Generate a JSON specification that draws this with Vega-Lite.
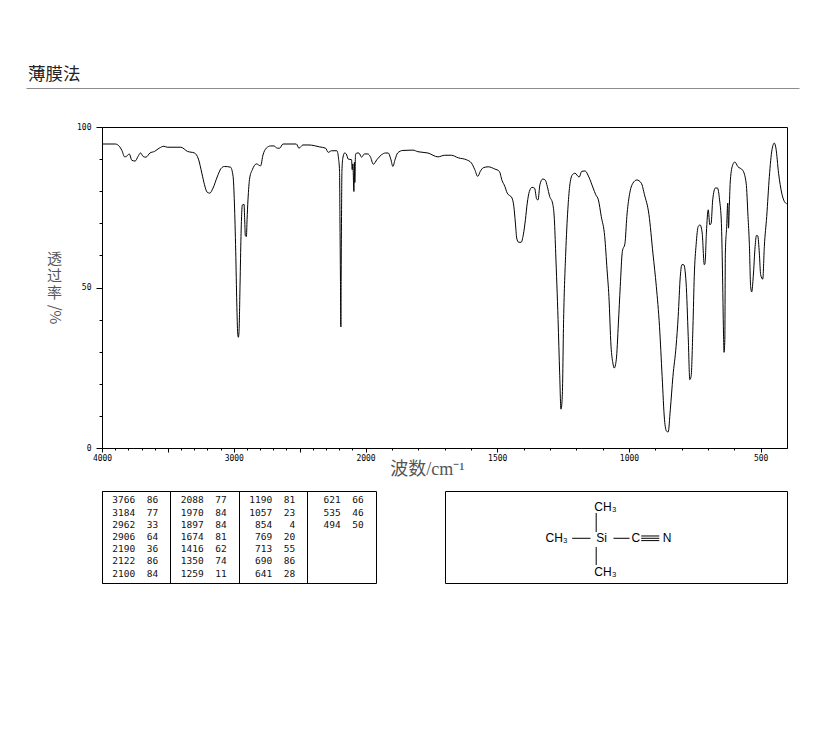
{
"$schema":"https://vega.github.io/schema/vega-lite/v6.json",
"background":"white",
"padding":{"left":26,"top":65,"right":23,"bottom":154},
"spacing":11,
"config":{"view":{"stroke":null}},
"datasets":{
"spectrum":[
{"w":4000,"t":94.7},{"w":3899,"t":94.7},{"w":3869,"t":94.0},{"w":3849,"t":92.7},{"w":3828,"t":90.7},{"w":3813,"t":90.9},{"w":3793,"t":91.6},{"w":3773,"t":89.6},{"w":3748,"t":89.4},{"w":3727,"t":90.8},{"w":3707,"t":91.9},{"w":3687,"t":90.8},{"w":3667,"t":90.6},{"w":3636,"t":91.9},{"w":3601,"t":92.4},{"w":3566,"t":93.4},{"w":3530,"t":94.0},{"w":3505,"t":93.7},{"w":3402,"t":93.7},{"w":3351,"t":92.4},{"w":3298,"t":91.9},{"w":3268,"t":90.0},{"w":3242,"t":85.6},{"w":3222,"t":82.0},{"w":3202,"t":79.7},{"w":3182,"t":79.4},{"w":3157,"t":81.0},{"w":3126,"t":84.4},{"w":3096,"t":87.1},{"w":3071,"t":87.7},{"w":3025,"t":87.5},{"w":3005,"t":84.6},{"w":2995,"t":76.3},{"w":2985,"t":61.2},{"w":2977,"t":45.2},{"w":2970,"t":35.8},{"w":2965,"t":34.5},{"w":2960,"t":36.3},{"w":2952,"t":51.4},{"w":2945,"t":65.9},{"w":2940,"t":72.7},{"w":2935,"t":75.7},{"w":2922,"t":75.9},{"w":2917,"t":71.1},{"w":2912,"t":66.1},{"w":2904,"t":65.9},{"w":2899,"t":71.1},{"w":2892,"t":77.3},{"w":2879,"t":84.1},{"w":2859,"t":86.7},{"w":2828,"t":88.5},{"w":2796,"t":87.9},{"w":2778,"t":91.3},{"w":2753,"t":93.4},{"w":2720,"t":94.1},{"w":2695,"t":94.1},{"w":2669,"t":93.4},{"w":2652,"t":93.4},{"w":2626,"t":94.7},{"w":2525,"t":94.7},{"w":2505,"t":93.4},{"w":2475,"t":94.4},{"w":2429,"t":94.4},{"w":2348,"t":93.8},{"w":2303,"t":93.4},{"w":2283,"t":92.1},{"w":2258,"t":92.6},{"w":2217,"t":92.6},{"w":2205,"t":90.3},{"w":2197,"t":86.2},{"w":2194,"t":72.1},{"w":2190,"t":51.9},{"w":2187,"t":37.7},{"w":2185,"t":51.9},{"w":2182,"t":72.1},{"w":2179,"t":86.2},{"w":2172,"t":90.3},{"w":2159,"t":91.9},{"w":2146,"t":91.6},{"w":2131,"t":90.0},{"w":2106,"t":89.8},{"w":2101,"t":86.7},{"w":2096,"t":88.5},{"w":2088,"t":79.9},{"w":2084,"t":89.0},{"w":2081,"t":82.7},{"w":2076,"t":91.3},{"w":2066,"t":91.9},{"w":2050,"t":91.9},{"w":2030,"t":90.6},{"w":2008,"t":91.6},{"w":1991,"t":91.6},{"w":1982,"t":90.8},{"w":1970,"t":88.4},{"w":1957,"t":89.8},{"w":1940,"t":91.3},{"w":1924,"t":91.9},{"w":1914,"t":91.9},{"w":1904,"t":90.0},{"w":1896,"t":87.7},{"w":1888,"t":89.8},{"w":1878,"t":91.9},{"w":1858,"t":92.7},{"w":1820,"t":92.8},{"w":1801,"t":92.3},{"w":1763,"t":91.9},{"w":1725,"t":90.7},{"w":1699,"t":91.2},{"w":1674,"t":91.2},{"w":1648,"t":90.4},{"w":1617,"t":89.8},{"w":1598,"t":88.8},{"w":1585,"t":86.7},{"w":1574,"t":84.6},{"w":1564,"t":86.2},{"w":1553,"t":87.3},{"w":1534,"t":87.6},{"w":1509,"t":86.9},{"w":1492,"t":86.2},{"w":1482,"t":83.4},{"w":1471,"t":81.5},{"w":1462,"t":79.4},{"w":1444,"t":77.9},{"w":1437,"t":75.3},{"w":1431,"t":70.1},{"w":1426,"t":65.4},{"w":1419,"t":64.1},{"w":1409,"t":64.1},{"w":1401,"t":66.4},{"w":1393,"t":71.1},{"w":1386,"t":76.3},{"w":1378,"t":79.9},{"w":1368,"t":81.2},{"w":1358,"t":80.9},{"w":1350,"t":77.5},{"w":1345,"t":77.3},{"w":1338,"t":82.0},{"w":1327,"t":83.8},{"w":1317,"t":83.4},{"w":1310,"t":81.5},{"w":1301,"t":78.4},{"w":1290,"t":76.3},{"w":1283,"t":71.1},{"w":1278,"t":60.7},{"w":1269,"t":40},{"w":1263,"t":23.4},{"w":1258,"t":12.1},{"w":1253,"t":16.1},{"w":1248,"t":40},{"w":1240,"t":60.7},{"w":1232,"t":74.2},{"w":1225,"t":81.5},{"w":1215,"t":85.1},{"w":1205,"t":85.6},{"w":1189,"t":84.4},{"w":1179,"t":86.2},{"w":1167,"t":86.3},{"w":1152,"t":84.4},{"w":1136,"t":81},{"w":1126,"t":78.9},{"w":1116,"t":77.3},{"w":1105,"t":72.1},{"w":1092,"t":65.9},{"w":1083,"t":55.5},{"w":1076,"t":47.2},{"w":1068,"t":31.7},{"w":1061,"t":26.5},{"w":1056,"t":24.9},{"w":1048,"t":27.5},{"w":1040,"t":38.9},{"w":1033,"t":50.3},{"w":1025,"t":61.2},{"w":1015,"t":63.8},{"w":1008,"t":72.1},{"w":998,"t":78.9},{"w":985,"t":82.5},{"w":970,"t":83.5},{"w":953,"t":82.5},{"w":941,"t":78.9},{"w":924,"t":72.7},{"w":909,"t":60.7},{"w":896,"t":50.3},{"w":884,"t":37.9},{"w":874,"t":22.3},{"w":865,"t":8.8},{"w":857,"t":5.2},{"w":851,"t":5},{"w":843,"t":11.9},{"w":833,"t":22.3},{"w":821,"t":31.7},{"w":813,"t":41},{"w":805,"t":53.5},{"w":799,"t":57.1},{"w":792,"t":57.1},{"w":783,"t":51.4},{"w":775,"t":34.8},{"w":769,"t":21.3},{"w":764,"t":22.3},{"w":757,"t":37.9},{"w":752,"t":53.5},{"w":745,"t":63.3},{"w":737,"t":69},{"w":730,"t":69.5},{"w":722,"t":67},{"w":714,"t":57.1},{"w":711,"t":57.6},{"w":706,"t":67},{"w":699,"t":74.2},{"w":693,"t":69.5},{"w":688,"t":70},{"w":682,"t":77.3},{"w":672,"t":81},{"w":664,"t":81},{"w":656,"t":77.3},{"w":649,"t":70},{"w":645,"t":55.5},{"w":641,"t":35.8},{"w":639,"t":29.8},{"w":636,"t":33.7},{"w":634,"t":60.7},{"w":629,"t":69},{"w":625,"t":76.3},{"w":622,"t":68.5},{"w":619,"t":75.2},{"w":615,"t":83.5},{"w":606,"t":88.2},{"w":598,"t":89.1},{"w":587,"t":87.7},{"w":568,"t":86.5},{"w":555,"t":82.5},{"w":548,"t":72.1},{"w":543,"t":63.8},{"w":538,"t":50.3},{"w":534,"t":48.6},{"w":528,"t":53.5},{"w":521,"t":62.8},{"w":516,"t":66.2},{"w":511,"t":66.1},{"w":505,"t":60.7},{"w":500,"t":54},{"w":492,"t":52.6},{"w":486,"t":62.8},{"w":477,"t":72.1},{"w":467,"t":84.6},{"w":457,"t":92.9},{"w":448,"t":95},{"w":442,"t":93.4},{"w":432,"t":85.6},{"w":420,"t":79.4},{"w":410,"t":76.8},{"w":401,"t":76.1}
],
"peaks":[
{"block":0,"row":0,"wn":3766,"tr":86},{"block":0,"row":1,"wn":3184,"tr":77},{"block":0,"row":2,"wn":2962,"tr":33},{"block":0,"row":3,"wn":2906,"tr":64},{"block":0,"row":4,"wn":2190,"tr":36},{"block":0,"row":5,"wn":2122,"tr":86},{"block":0,"row":6,"wn":2100,"tr":84},
{"block":1,"row":0,"wn":2088,"tr":77},{"block":1,"row":1,"wn":1970,"tr":84},{"block":1,"row":2,"wn":1897,"tr":84},{"block":1,"row":3,"wn":1674,"tr":81},{"block":1,"row":4,"wn":1416,"tr":62},{"block":1,"row":5,"wn":1350,"tr":74},{"block":1,"row":6,"wn":1259,"tr":11},
{"block":2,"row":0,"wn":1190,"tr":81},{"block":2,"row":1,"wn":1057,"tr":23},{"block":2,"row":2,"wn":854,"tr":4},{"block":2,"row":3,"wn":769,"tr":20},{"block":2,"row":4,"wn":713,"tr":55},{"block":2,"row":5,"wn":690,"tr":86},{"block":2,"row":6,"wn":641,"tr":28},
{"block":3,"row":0,"wn":621,"tr":66},{"block":3,"row":1,"wn":535,"tr":46},{"block":3,"row":2,"wn":494,"tr":50}
]
},
"vconcat":[
{"spacing":34,"vconcat":[
{"width":773,"height":8,
 "title":{"text":"薄膜法","anchor":"start","frame":"group","font":"Noto Sans CJK SC","fontSize":17.5,"fontWeight":"normal","color":"#222222","dx":2,"offset":-3},
 "data":{"values":[]},
 "mark":{"type":"rule"},
 "encoding":{"x":{"field":"p","type":"quantitative","scale":{"domain":[0,1]},"axis":{"title":null,"labels":false,"ticks":false,"grid":false,"domain":true,"domainColor":"#8c8c8c","domainWidth":1}}}
},
{"spacing":0,"bounds":"flush","hconcat":[
 {"width":76,"height":321,"data":{"values":[]},"mark":{"type":"rule"},"encoding":{}},
 {"width":685,"height":321,
  "view":{"stroke":"black","strokeWidth":1},
  "resolve":{"axis":{"y":"independent"}},
  "layer":[
  {"data":{"name":"spectrum"},
   "mark":{"type":"line","color":"black","strokeWidth":1,"interpolate":"monotone"},
   "encoding":{
    "x":{"field":"w","type":"quantitative","sort":null,
      "scale":{"type":"linear","domain":[4000,2000,400],"range":[0,263.5,685],"nice":false,"zero":false},
      "axis":{"orient":"bottom","values":[4000,3900,3800,3700,3600,3500,3400,3300,3200,3100,3000,2900,2800,2700,2600,2500,2400,2300,2200,2100,2000,1900,1800,1700,1600,1500,1400,1300,1200,1100,1000,900,800,700,600,500],
       "labelExpr":"indexof([4000,3000,2000,1500,1000,500],datum.value)>=0?format(datum.value,'d'):''",
       "labelOverlap":false,"labelFlush":false,"labelFont":"DejaVu Sans Mono","labelFontSize":8,"labelColor":"black","labelPadding":2,
       "tickColor":"black","tickSize":{"condition":{"test":"datum.value%500==0","value":4},"value":2},
       "domainColor":"black","grid":false,
       "title":"波数/cm⁻¹","titleFont":"Liberation Serif, Noto Sans CJK SC","titleFontSize":18,"titleFontWeight":"normal","titleColor":"#555555","titleX":325,"titleY":26,"titleAlign":"center","titleBaseline":"alphabetic"}},
    "y":{"field":"t","type":"quantitative",
      "scale":{"domain":[0,100],"nice":false},
      "axis":{"orient":"left","values":[0,10,20,30,40,50,60,70,80,90,100],
       "labelExpr":"datum.value%50==0?datum.value:''","labelFont":"DejaVu Sans Mono","labelFontSize":8,"labelColor":"black","labelPadding":5,
       "tickColor":"black","tickSize":{"condition":{"test":"datum.value%50==0","value":6},"value":3},
       "domainColor":"black","grid":false,
       "title":["透","过","率"],"titleFont":"Noto Sans CJK SC","titleFontSize":15,"titleFontWeight":"normal","titleColor":"#555555","titleAngle":0,"titleAlign":"center","titleBaseline":"top","titleX":-48,"titleY":124,
       "encoding":{"title":{"update":{"lineHeight":{"value":18}}}}}}
   }},
  {"data":{"values":[]},
   "mark":{"type":"rule"},
   "encoding":{"y":{"field":"t","type":"quantitative",
     "axis":{"orient":"left","labels":false,"ticks":false,"domain":false,"grid":false,
      "title":"/%","titleFont":"Noto Sans CJK SC","titleFontSize":15,"titleFontWeight":"normal","titleColor":"#555555","titleAngle":90,"titleAlign":"center","titleBaseline":"middle","titleX":-48,"titleY":187}}}}
  ]
 }
]}
]},
{"spacing":69,"bounds":"flush","hconcat":[
 {"width":7,"height":92,"data":{"values":[]},"mark":{"type":"rule"},"encoding":{}},
 {"width":274,"height":92,
  "view":{"stroke":"black","strokeWidth":1},
  "data":{"name":"peaks"},
  "encoding":{
   "x":{"field":"block","type":"ordinal","scale":{"type":"band","domain":[0,1,2,3],"paddingInner":0,"paddingOuter":0},
     "axis":{"title":null,"labels":false,"ticks":false,"domain":false,"grid":true,"gridColor":"black","gridOpacity":1,"bandPosition":0}},
   "y":{"field":"row","type":"ordinal","scale":{"type":"point","padding":0.78},"axis":null}
  },
  "layer":[
   {"mark":{"type":"text","font":"DejaVu Sans Mono","fontSize":9.5,"color":"#111111","align":"right","baseline":"middle","dx":-1},"encoding":{"text":{"field":"wn","type":"nominal"}}},
   {"mark":{"type":"text","font":"DejaVu Sans Mono","fontSize":9.5,"color":"#111111","align":"right","baseline":"middle","dx":22},"encoding":{"text":{"field":"tr","type":"nominal"}}}
  ]
 },
 {"width":342,"height":92,
  "view":{"stroke":"black","strokeWidth":1},
  "layer":[
   {"data":{"values":[
     {"x":0,"y":0.19,"x2":0,"y2":0.767},
     {"x":0,"y":-0.264,"x2":0,"y2":-0.81},
     {"x":-0.727,"y":0,"x2":-0.173,"y2":0},
     {"x":0.524,"y":0,"x2":1.01,"y2":0},
     {"x":1.364,"y":0.07,"x2":1.912,"y2":0.07},
     {"x":1.364,"y":0,"x2":1.912,"y2":0},
     {"x":1.364,"y":-0.07,"x2":1.912,"y2":-0.07}]},
    "mark":{"type":"rule","color":"black","strokeWidth":1},
    "encoding":{
     "x":{"field":"x","type":"quantitative","scale":{"domain":[-4.58,5.78],"nice":false,"zero":false},"axis":null},
     "y":{"field":"y","type":"quantitative","scale":{"domain":[-1.355,1.433],"nice":false,"zero":false},"axis":null},
     "x2":{"field":"x2"},"y2":{"field":"y2"}}},
   {"data":{"values":[
     {"x":0.28,"y":0.96,"atom":"CH₃"},
     {"x":-1.2,"y":0,"atom":"CH₃"},
     {"x":0.28,"y":-1.03,"atom":"CH₃"},
     {"x":0.16,"y":0,"atom":"Si"},
     {"x":1.2,"y":0,"atom":"C"},
     {"x":2.15,"y":0,"atom":"N"}]},
    "mark":{"type":"text","font":"Liberation Sans","fontSize":12,"color":"black","align":"center","baseline":"middle"},
    "encoding":{
     "x":{"field":"x","type":"quantitative"},
     "y":{"field":"y","type":"quantitative"},
     "text":{"field":"atom","type":"nominal"}}}
  ]
 }
]}
]
}
